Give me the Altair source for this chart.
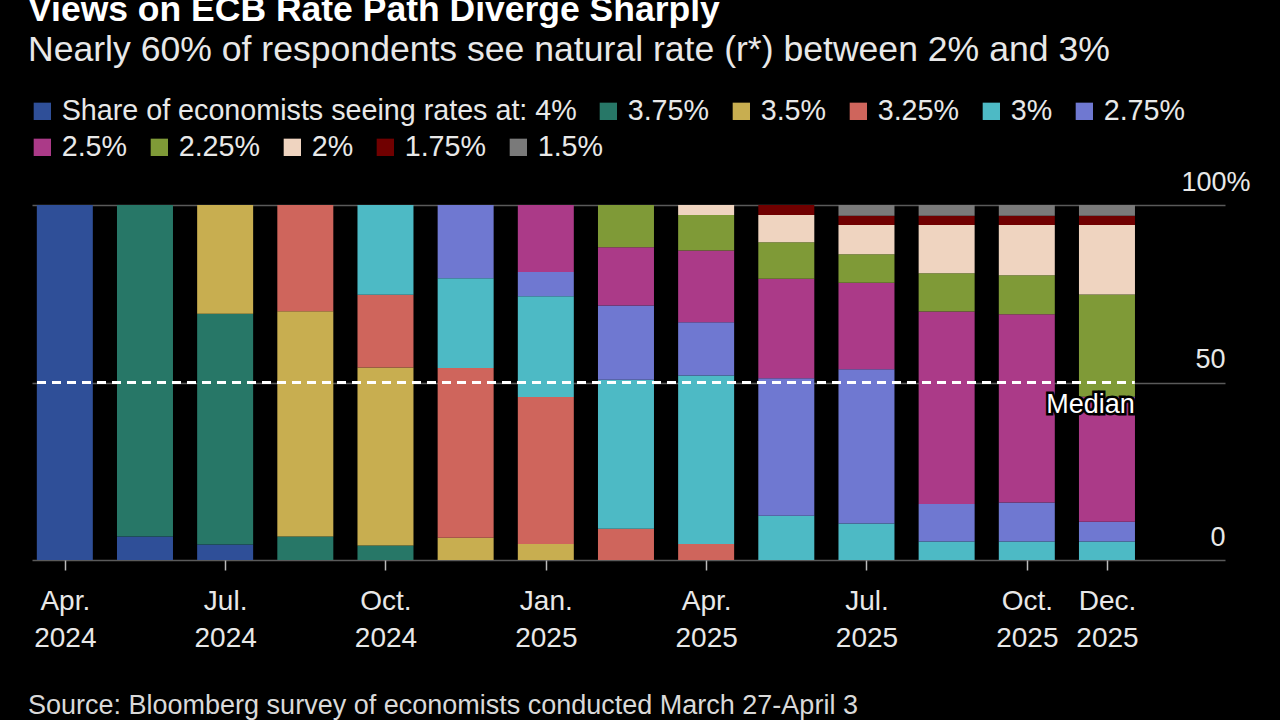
import altair as alt
import pandas as pd

# ---- data ----
meetings = ["Apr 2024", "Jun 2024", "Jul 2024", "Sep 2024", "Oct 2024", "Dec 2024", "Jan 2025",
            "Mar 2025", "Apr 2025", "Jun 2025", "Jul 2025", "Sep 2025", "Oct 2025", "Dec 2025"]
meeting_idx = list(range(len(meetings)))

rates = ["4%", "3.75%", "3.5%", "3.25%", "3%", "2.75%", "2.5%", "2.25%", "2%", "1.75%", "1.5%"]
colors = ["#2f4f98", "#277767", "#c8ae50", "#cf655c", "#4dbac5", "#6f78d1", "#ab3a88",
          "#7f9a37", "#efd4c0", "#700000", "#7a7a7a"]

share_400 = [100, 6.6, 4.4, 0, 0, 0, 0, 0, 0, 0, 0, 0, 0, 0]
share_375 = [0, 93.4, 65.0, 6.6, 4.1, 0, 0, 0, 0, 0, 0, 0, 0, 0]
share_350 = [0, 0, 30.6, 63.5, 50.1, 6.3, 4.5, 0, 0, 0, 0, 0, 0, 0]
share_325 = [0, 0, 0, 29.9, 20.5, 47.8, 41.4, 8.8, 4.5, 0, 0, 0, 0, 0]
share_300 = [0, 0, 0, 0, 25.3, 25.3, 28.4, 42.0, 47.5, 12.5, 10.3, 5.2, 5.2, 5.2]
share_275 = [0, 0, 0, 0, 0, 20.6, 6.8, 20.9, 15.0, 38.7, 43.4, 10.6, 11.0, 5.6]
share_250 = [0, 0, 0, 0, 0, 0, 18.9, 16.4, 20.2, 28.0, 24.4, 54.2, 53.0, 35.2]
share_225 = [0, 0, 0, 0, 0, 0, 0, 11.9, 10.0, 10.3, 8.0, 10.8, 11.0, 28.8]
share_200 = [0, 0, 0, 0, 0, 0, 0, 0, 2.8, 7.7, 8.3, 13.6, 14.2, 19.6]
share_175 = [0, 0, 0, 0, 0, 0, 0, 0, 0, 2.8, 2.6, 2.6, 2.6, 2.6]
share_150 = [0, 0, 0, 0, 0, 0, 0, 0, 0, 0, 3.0, 3.0, 3.0, 3.0]
shares = [share_400, share_375, share_350, share_325, share_300, share_275,
          share_250, share_225, share_200, share_175, share_150]

median_value = 50
legend_prefix = "Share of economists seeing rates at: "
legend_row1 = rates[:6]
legend_row2 = rates[6:]

tick_idx = [0, 2, 4, 6, 8, 10, 12, 13]
tick_month = ["Apr.", "Jul.", "Oct.", "Jan.", "Apr.", "Jul.", "Oct.", "Dec."]
tick_year = ["2024", "2024", "2024", "2025", "2025", "2025", "2025", "2025"]

title_text = "Views on ECB Rate Path Diverge Sharply"
subtitle_text = "Nearly 60% of respondents see natural rate (r*) between 2% and 3%"
source_text = "Source: Bloomberg survey of economists conducted March 27-April 3"

# ---- build long table ----
rows = []
for r_i, (rate, vals) in enumerate(zip(rates, shares)):
    for m_i, v in zip(meeting_idx, vals):
        if v > 0:
            rows.append({"idx": m_i, "meeting": meetings[m_i], "rate": rate,
                         "order": r_i, "share": v})
df = pd.DataFrame(rows)

FONT = "Liberation Sans"
TXT = "#e8e8e8"
BAR_W = 56
HALF = 0.347
x_domain = [meeting_idx[0] - HALF, meeting_idx[-1] + 1.41]

label_expr = ""
for i, m, y in zip(tick_idx, tick_month, tick_year):
    label_expr += f"datum.value == {i} ? ['{m}', '{y}'] : "
label_expr += "''"

x_enc = alt.X("idx:Q", scale=alt.Scale(domain=x_domain, nice=False, zero=False),
              axis=alt.Axis(values=tick_idx, labelExpr=label_expr, title=None, grid=False,
                            domain=False, ticks=True, tickSize=10, tickColor="#bbbbbb",
                            tickWidth=1.5, labelFontSize=28, labelColor=TXT, labelFont=FONT,
                            labelLineHeight=37, labelPadding=17, labelBaseline="top",
                            labelAlign="center"))

y_enc = alt.Y("share:Q", stack="zero", scale=alt.Scale(domain=[0, 100], nice=False),
              axis=alt.Axis(values=[0, 50, 100], orient="right", title=None, grid=True,
                            gridColor="#5a5a5a", gridWidth=1.5, domain=False, ticks=False,
                            tickSize=0, labelFontSize=27, labelColor=TXT, labelFont=FONT,
                            labelAlign="right", labelBaseline="alphabetic", labelOffset=-15,
                            labelPadding={"condition": {"test": "datum.value == 100", "value": 25}, "value": 0},
                            labelExpr="datum.value == 100 ? '100%' : datum.label"))

bars = alt.Chart(df).mark_bar(width=BAR_W).encode(
    x=x_enc,
    y=y_enc,
    color=alt.Color("rate:N", scale=alt.Scale(domain=rates, range=colors), legend=None),
    order=alt.Order("order:Q", sort="ascending"),
)


def legend_layer(subset, legend_y):
    sub_colors = [colors[rates.index(r)] for r in subset]
    return alt.Chart(df[df["rate"].isin(subset)]).mark_square(opacity=0).encode(
        x="idx:Q", y=alt.Y("share:Q", stack="zero"),
        color=alt.Color("rate:N", scale=alt.Scale(domain=subset, range=sub_colors),
                        legend=alt.Legend(orient="none", legendX=-4, legendY=legend_y,
                                          direction="horizontal", title=None,
                                          symbolType="square", symbolSize=300, symbolStrokeWidth=0,
                                          symbolOpacity=1,
                                          labelFontSize=28.7, labelFont=FONT, labelColor=TXT,
                                          labelOffset=5, columnPadding=17, padding=0,
                                          labelLimit=800,
                                          labelExpr=f"datum.label == '{rates[0]}' ? '{legend_prefix}' + datum.label : datum.label")),
    )


leg1 = legend_layer(legend_row1, -108.5)
leg2 = legend_layer(legend_row2, -72.5)

med_df = pd.DataFrame([{"x": meeting_idx[0] - HALF, "x2": meeting_idx[-1] + HALF, "y": median_value}])
median_rule = alt.Chart(med_df).mark_rule(color="white", strokeWidth=3, strokeDash=[9, 6]).encode(
    x="x:Q", x2="x2:Q", y="y:Q")
median_halo = alt.Chart(med_df).mark_text(text="Median", align="right", baseline="alphabetic", dy=30,
                                          font=FONT, fontSize=27, stroke="black", strokeWidth=5,
                                          fill="black").encode(x="x2:Q", y="y:Q")
median_text = alt.Chart(med_df).mark_text(text="Median", align="right", baseline="alphabetic", dy=30,
                                          font=FONT, fontSize=27, color="white").encode(x="x2:Q", y="y:Q")

one = pd.DataFrame([{"k": 0}])
title = alt.Chart(one).mark_text(text=title_text, align="left", baseline="alphabetic", font=FONT,
                                 fontSize=35.5, fontWeight="bold", color="white").encode(
    x=alt.value(-4), y=alt.value(-184))
subtitle = alt.Chart(one).mark_text(text=subtitle_text, align="left", baseline="alphabetic", font=FONT,
                                    fontSize=35.6, color=TXT).encode(x=alt.value(-4), y=alt.value(-144))
source = alt.Chart(one).mark_text(text=source_text, align="left", baseline="alphabetic", font=FONT,
                                  fontSize=27, color="#d9d9d9").encode(x=alt.value(-4), y=alt.value(509))

chart = alt.layer(bars, leg1, leg2, median_rule, median_halo, median_text, title, subtitle, source).resolve_scale(
    color="independent"
).properties(
    width=1193, height=355,
    background="#000000",
    padding={"left": 32, "top": 205, "right": 55, "bottom": 160},
    autosize=alt.AutoSizeParams(type="none"),
).configure_view(stroke=None).configure_axis(labelFont=FONT)

chart.save("out.html", embed_options={"renderer": "svg", "actions": False})
